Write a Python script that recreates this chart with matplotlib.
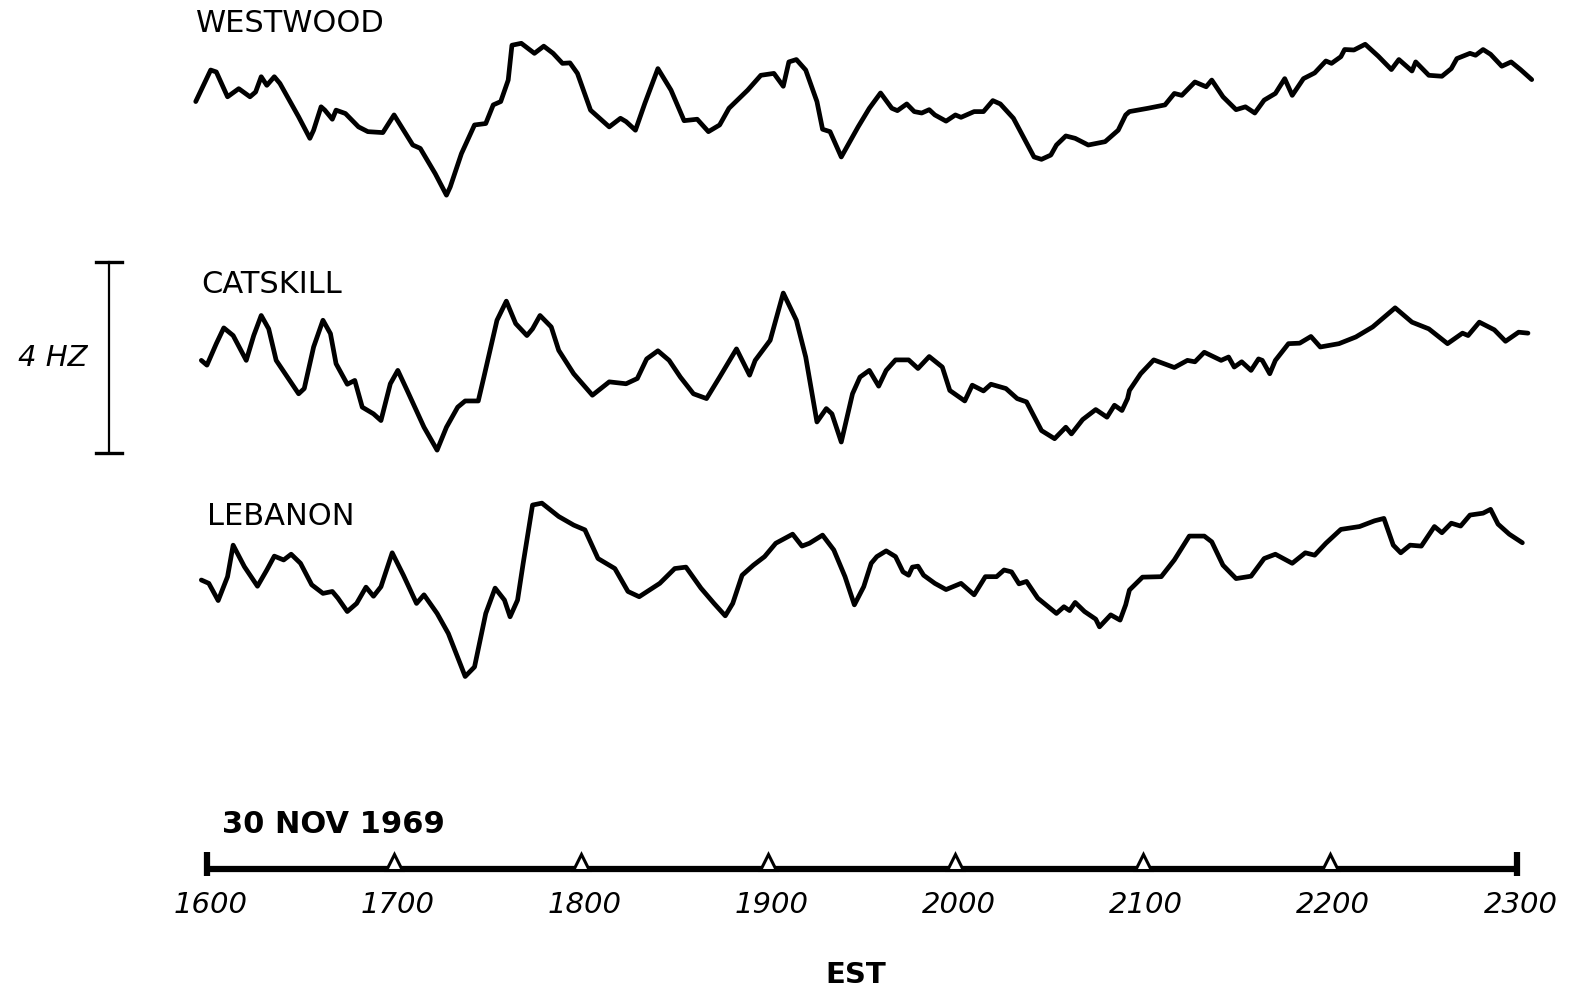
import matplotlib.pyplot as plt

# time in decimal hours EST, deviation in Hz
westwood_t = [15.94, 16.02, 16.05, 16.11, 16.17, 16.23, 16.26, 16.29, 16.32, 16.36, 16.39,
              16.49, 16.55, 16.57, 16.61, 16.63, 16.67, 16.69, 16.74, 16.81, 16.86, 16.94,
              17.00, 17.10, 17.14, 17.22, 17.28, 17.30, 17.36, 17.43, 17.49, 17.53, 17.57,
              17.61, 17.63, 17.68, 17.75, 17.80, 17.85, 17.90, 17.94, 17.98, 18.05, 18.15,
              18.21, 18.24, 18.29, 18.34, 18.41, 18.48, 18.55, 18.62, 18.68, 18.74, 18.79,
              18.89, 18.96, 19.03, 19.08, 19.11, 19.15, 19.20, 19.26, 19.29, 19.33, 19.39,
              19.48, 19.54, 19.60, 19.66, 19.69, 19.74, 19.78, 19.82, 19.86, 19.89, 19.95,
              20.00, 20.03, 20.10, 20.15, 20.20, 20.24, 20.31, 20.42, 20.46, 20.51, 20.54,
              20.59, 20.64, 20.71, 20.80, 20.87, 20.91, 20.93, 21.03, 21.12, 21.17, 21.21,
              21.28, 21.34, 21.37, 21.43, 21.50, 21.55, 21.60, 21.65, 21.71, 21.76, 21.80,
              21.86, 21.92, 21.98, 22.01, 22.06, 22.08, 22.13, 22.19, 22.26, 22.33, 22.37,
              22.44, 22.46, 22.53, 22.60, 22.65, 22.68, 22.75, 22.78, 22.82, 22.86, 22.92,
              22.97, 23.02, 23.08]
westwood_hz = [-0.03, 0.63, 0.59, 0.07, 0.24, 0.07, 0.17, 0.49, 0.31, 0.49, 0.35,
               -0.35, -0.80, -0.63, -0.14, -0.21, -0.40, -0.21, -0.28, -0.56, -0.66, -0.68,
               -0.31, -0.94, -1.01, -1.54, -1.99, -1.82, -1.12, -0.52, -0.49, -0.10, -0.03,
               0.42, 1.15, 1.19, 0.98, 1.13, 0.98, 0.77, 0.78, 0.56, -0.21, -0.56,
               -0.38, -0.45, -0.63, -0.07, 0.66, 0.21, -0.43, -0.40, -0.66, -0.52, -0.17,
               0.21, 0.52, 0.56, 0.29, 0.80, 0.85, 0.63, -0.03, -0.61, -0.66, -1.19,
               -0.56, -0.17, 0.15, -0.17, -0.22, -0.08, -0.24, -0.27, -0.20, -0.31, -0.44,
               -0.31, -0.36, -0.24, -0.24, -0.01, -0.08, -0.38, -1.19, -1.24, -1.15, -0.94,
               -0.75, -0.80, -0.94, -0.87, -0.63, -0.31, -0.24, -0.17, -0.10, 0.14, 0.10,
               0.38, 0.28, 0.42, 0.07, -0.20, -0.14, -0.27, 0.00, 0.14, 0.45, 0.10,
               0.45, 0.57, 0.82, 0.77, 0.91, 1.06, 1.05, 1.17, 0.92, 0.64, 0.85,
               0.61, 0.80, 0.52, 0.50, 0.66, 0.87, 0.98, 0.94, 1.06, 0.96, 0.71,
               0.80, 0.64, 0.43]

catskill_t = [15.97, 16.00, 16.05, 16.09, 16.14, 16.21, 16.25, 16.29, 16.33, 16.37, 16.43,
              16.49, 16.52, 16.57, 16.62, 16.66, 16.69, 16.75, 16.79, 16.83, 16.89, 16.93,
              16.98, 17.02, 17.07, 17.16, 17.23, 17.28, 17.34, 17.38, 17.45, 17.48, 17.55,
              17.60, 17.65, 17.71, 17.74, 17.78, 17.84, 17.88, 17.96, 18.06, 18.15, 18.24,
              18.30, 18.35, 18.41, 18.47, 18.53, 18.60, 18.67, 18.74, 18.83, 18.90, 18.93,
              19.01, 19.08, 19.15, 19.20, 19.26, 19.31, 19.34, 19.39, 19.45, 19.49, 19.54,
              19.59, 19.63, 19.68, 19.75, 19.80, 19.86, 19.93, 19.97, 20.05, 20.09, 20.15,
              20.19, 20.27, 20.33, 20.38, 20.46, 20.53, 20.59, 20.62, 20.68, 20.75, 20.81,
              20.85, 20.89, 20.92, 20.93, 20.99, 21.06, 21.17, 21.24, 21.28, 21.33, 21.42,
              21.46, 21.49, 21.53, 21.58, 21.62, 21.64, 21.68, 21.71, 21.78, 21.84, 21.90,
              21.95, 22.05, 22.14, 22.23, 22.35, 22.44, 22.53, 22.63, 22.71, 22.74, 22.80,
              22.88, 22.94, 23.01, 23.06]
catskill_hz = [0.00, -0.10, 0.35, 0.68, 0.52, 0.00, 0.52, 0.94, 0.66, 0.00, -0.35,
               -0.70, -0.59, 0.28, 0.84, 0.56, -0.07, -0.50, -0.42, -0.98, -1.12, -1.26,
               -0.49, -0.21, -0.63, -1.40, -1.88, -1.40, -0.98, -0.85, -0.85, -0.35, 0.84,
               1.24, 0.77, 0.52, 0.66, 0.94, 0.70, 0.21, -0.28, -0.73, -0.45, -0.49,
               -0.38, 0.03, 0.20, 0.00, -0.35, -0.70, -0.80, -0.35, 0.24, -0.31, 0.00,
               0.42, 1.41, 0.84, 0.07, -1.29, -1.01, -1.12, -1.71, -0.70, -0.35, -0.21,
               -0.54, -0.21, 0.01, 0.01, -0.17, 0.08, -0.14, -0.63, -0.85, -0.52, -0.64,
               -0.50, -0.59, -0.80, -0.87, -1.47, -1.64, -1.40, -1.54, -1.24, -1.03, -1.19,
               -0.94, -1.05, -0.80, -0.63, -0.28, 0.01, -0.15, 0.00, -0.03, 0.17, 0.00,
               0.07, -0.14, -0.03, -0.21, 0.03, 0.00, -0.28, 0.00, 0.35, 0.36, 0.50,
               0.28, 0.35, 0.49, 0.70, 1.10, 0.80, 0.66, 0.35, 0.57, 0.52, 0.80,
               0.64, 0.40, 0.59, 0.57]

lebanon_t = [15.97, 16.01, 16.06, 16.11, 16.14, 16.20, 16.27, 16.32, 16.36, 16.41, 16.45,
             16.50, 16.56, 16.62, 16.67, 16.70, 16.75, 16.80, 16.85, 16.89, 16.93, 16.99,
             17.05, 17.12, 17.16, 17.23, 17.29, 17.38, 17.43, 17.49, 17.54, 17.59, 17.62,
             17.66, 17.69, 17.74, 17.79, 17.88, 17.96, 18.02, 18.09, 18.18, 18.25, 18.31,
             18.42, 18.50, 18.56, 18.64, 18.71, 18.77, 18.81, 18.86, 18.92, 18.98, 19.04,
             19.13, 19.18, 19.22, 19.29, 19.35, 19.41, 19.46, 19.51, 19.55, 19.58, 19.63,
             19.68, 19.72, 19.75, 19.77, 19.80, 19.83, 19.89, 19.95, 20.03, 20.10, 20.16,
             20.22, 20.26, 20.30, 20.34, 20.38, 20.44, 20.54, 20.58, 20.61, 20.64, 20.69,
             20.75, 20.77, 20.83, 20.88, 20.91, 20.93, 21.00, 21.10, 21.17, 21.25, 21.33,
             21.37, 21.43, 21.50, 21.58, 21.65, 21.71, 21.80, 21.87, 21.92, 21.98, 22.06,
             22.16, 22.24, 22.29, 22.34, 22.38, 22.43, 22.49, 22.56, 22.60, 22.65, 22.70,
             22.75, 22.82, 22.86, 22.90, 22.96, 23.03]
lebanon_hz = [0.00, -0.07, -0.43, 0.07, 0.73, 0.28, -0.13, 0.21, 0.50, 0.42, 0.54,
              0.35, -0.10, -0.28, -0.24, -0.38, -0.66, -0.49, -0.15, -0.34, -0.14, 0.57,
              0.10, -0.49, -0.31, -0.70, -1.12, -2.02, -1.82, -0.70, -0.17, -0.42, -0.77,
              -0.42, 0.35, 1.57, 1.61, 1.33, 1.15, 1.05, 0.45, 0.24, -0.24, -0.35,
              -0.07, 0.24, 0.27, -0.17, -0.49, -0.75, -0.49, 0.10, 0.31, 0.49, 0.77,
              0.96, 0.71, 0.77, 0.94, 0.63, 0.07, -0.52, -0.14, 0.35, 0.49, 0.61,
              0.49, 0.17, 0.10, 0.27, 0.29, 0.10, -0.07, -0.20, -0.07, -0.31, 0.07,
              0.07, 0.21, 0.17, -0.08, -0.03, -0.38, -0.70, -0.56, -0.64, -0.47, -0.66,
              -0.82, -0.98, -0.73, -0.84, -0.52, -0.21, 0.06, 0.07, 0.42, 0.92, 0.92,
              0.80, 0.31, 0.03, 0.08, 0.45, 0.54, 0.35, 0.57, 0.52, 0.77, 1.06,
              1.12, 1.24, 1.29, 0.73, 0.57, 0.73, 0.71, 1.12, 0.99, 1.19, 1.13,
              1.36, 1.40, 1.48, 1.17, 0.96, 0.78]

stations = ['WESTWOOD', 'CATSKILL', 'LEBANON']
baselines = [18.72, 13.27, 8.67]   # Hz offset of each trace on the page
hours = [16, 17, 18, 19, 20, 21, 22, 23]
hour_labels = ['1600', '1700', '1800', '1900', '2000', '2100', '2200', '2300']

fig = plt.figure(figsize=(15.8, 9.94), dpi=100)
ax = fig.add_axes([0, 0, 1, 1])
ax.set_xlim(14.894, 23.338)
ax.set_ylim(0, 20.817)
ax.axis('off')

traces = [(westwood_t, westwood_hz), (catskill_t, catskill_hz), (lebanon_t, lebanon_hz)]
label_pos = [(15.94, 20.33), (15.97, 14.85), (16.00, 10.0)]
for (t, hz), base, name, (lx, ly) in zip(traces, baselines, stations, label_pos):
    ax.plot(t, [v + base for v in hz], color='black', lw=3.4,
            solid_joinstyle='round', solid_capstyle='round')
    ax.text(lx, ly, name, fontsize=22, va='center', ha='left')

# 4 Hz scale bar
bar_x = 15.476
bar_lo, bar_hi = 11.33, 15.33
ax.plot([bar_x, bar_x], [bar_lo, bar_hi], color='black', lw=1.6)
for yb in (bar_lo, bar_hi):
    ax.plot([bar_x - 0.07, bar_x + 0.07], [yb, yb], color='black', lw=2.4)
ax.text(15.175, 13.32, '4 HZ', fontsize=21, style='italic', ha='center', va='center')

# time axis
axis_y = 2.62
ax.plot([hours[0], hours[-1]], [axis_y, axis_y], color='black', lw=4.5, solid_capstyle='butt')
ax.plot(hours[1:-1], [axis_y + 0.14] * 6, ls='none', marker='^', ms=11,
        mfc='white', mec='black', mew=2.2)
ax.plot([hours[0], hours[-1]], [axis_y + 0.1] * 2, ls='none', marker='|', ms=17, mew=4.5, color='black')
for h, lab in zip(hours, hour_labels):
    ax.text(h + 0.02, 1.86, lab, fontsize=21, style='italic', ha='center', va='center')

ax.text(16.08, 3.56, '30 NOV 1969', fontsize=22, fontweight='bold', ha='left', va='center')
ax.text(19.47, 0.40, 'EST', fontsize=21, fontweight='bold', ha='center', va='center')

plt.savefig('out.png', dpi=100)
